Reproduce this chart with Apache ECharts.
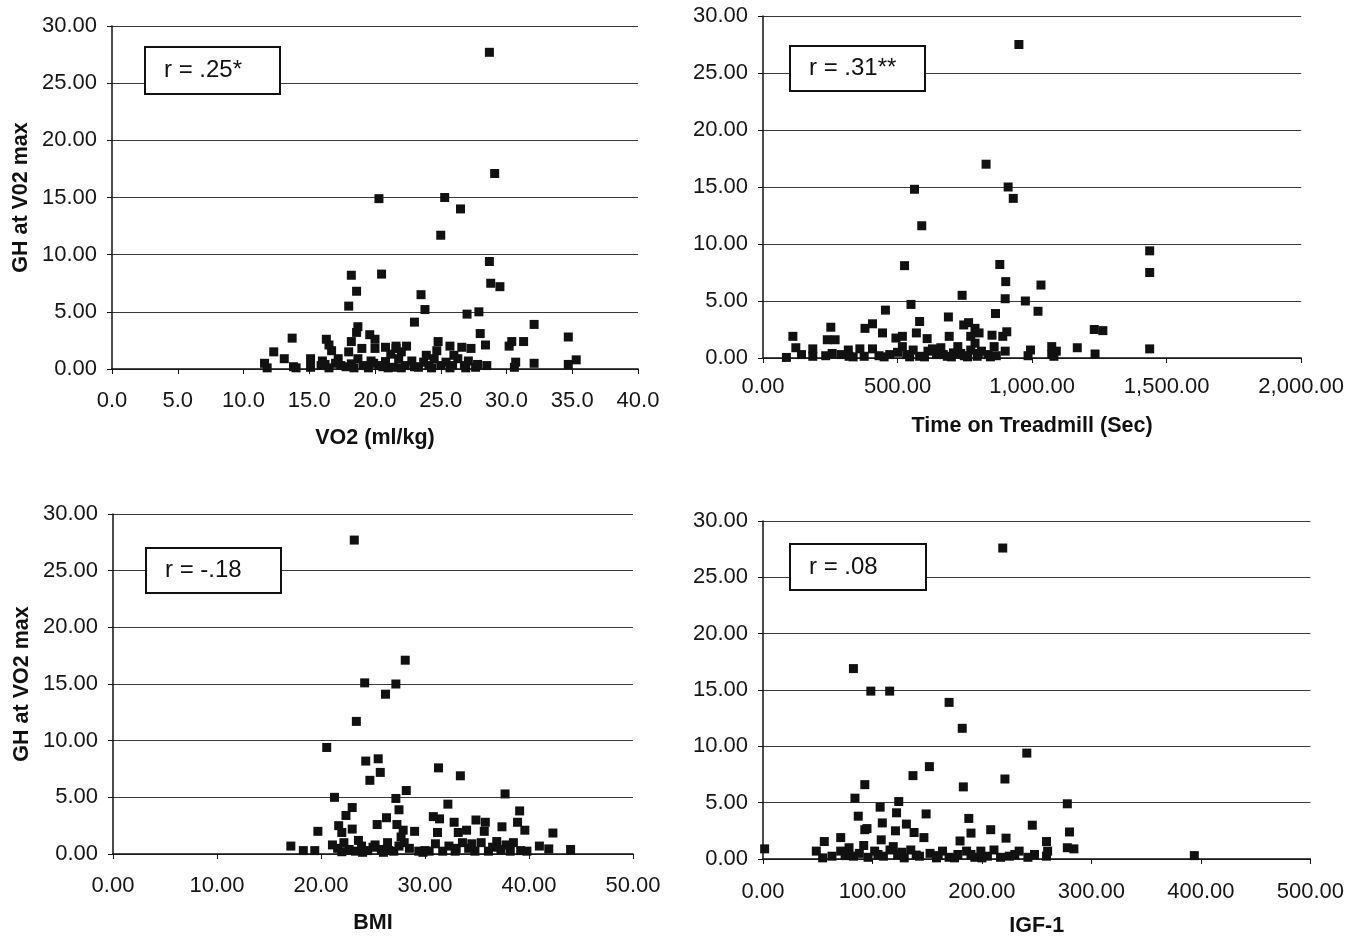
<!DOCTYPE html>
<html>
<head>
<meta charset="utf-8">
<script src="https://cdn.jsdelivr.net/npm/echarts@6/dist/echarts.min.js"></script>
<style>
html,body{margin:0;padding:0;background:#fff;}
#chart{width:1347px;height:938px;}
</style>
</head>
<body>
<div id="chart"></div>
<script>
// ---- Data (GH at VO2 max vs. predictors) ----
const yTicks = [0, 5, 10, 15, 20, 25, 30];
const panelTitles = ['VO2 (ml/kg)', 'Time on Treadmill (Sec)', 'BMI', 'IGF-1'];
const correlations = ['r = .25*', 'r = .31**', 'r = -.18', 'r = .08'];

const vo2Points = [
  [28.7,27.7],[29.1,17.1],[20.3,14.9],[25.3,15.0],[26.5,14.0],[25.0,11.7],
  [28.7,9.4],[18.2,8.2],[20.5,8.3],[18.6,6.8],[23.5,6.5],[28.8,7.5],[29.5,7.2],
  [18.0,5.5],[23.8,5.2],[27.0,4.8],[27.9,5.0],[23.0,4.1],[32.1,3.9],[28.0,3.1],
  [34.7,2.8],[13.7,2.7],[16.3,2.6],[18.7,3.7],[18.6,3.2],[19.6,3.0],[20.0,2.6],
  [12.3,1.5],[13.1,0.9],[31.3,2.4],[30.4,2.4],[30.2,2.0],[28.4,2.1],[27.3,1.8],
  [26.6,1.9],[25.7,2.0],[24.8,2.4],[24.7,1.6],[22.4,2.0],[21.6,1.8],[20.8,1.9],
  [20.0,1.8],[19.0,1.8],[18.2,2.4],[18.0,1.5],[16.7,1.6],[16.5,2.1],[21.6,2.0],[22.0,1.5],
  [11.6,0.5],[11.8,0.1],[14.0,0.1],[15.1,0.9],[15.1,0.15],[15.9,0.3],[16.0,0.7],
  [17.2,0.9],[17.4,0.3],[18.2,0.45],[18.7,0.9],[19.1,0.3],[19.7,0.7],[20.3,0.3],
  [20.8,0.65],[21.4,0.15],[21.8,0.9],[22.3,0.3],[22.8,0.7],[23.3,0.15],[23.7,0.6],
  [24.1,0.3],[24.5,0.9],[25.0,0.3],[25.4,0.6],[25.9,0.3],[26.3,0.9],[26.8,0.3],
  [27.1,0.7],[27.65,0.15],[28.5,0.3],[30.7,0.6],[30.6,0.15],[32.1,0.5],[34.7,0.4],
  [35.3,0.8],[16.5,0.1],[17.8,0.2],[18.4,0.1],[19.5,0.1],[21.0,0.1],[22.0,0.1],
  [23.0,0.2],[24.3,0.1],[25.7,0.1],[26.9,0.1],[27.8,0.4],[13.8,0.2],[16.2,0.4],
  [17.0,0.5],[19.9,0.5],[20.6,0.2],[23.9,1.2],[26.0,1.2],[21.2,1.3]
];

const treadmillPoints = [
  [951,27.5],[829,17.0],[563,14.8],[911,15.0],[930,14.0],[590,11.6],[1437,9.4],
  [1437,7.5],[526,8.1],[880,8.2],[902,6.7],[1033,6.4],[740,5.5],[550,4.7],[900,5.2],
  [975,5.0],[1022,4.1],[455,4.2],[864,3.9],[689,3.6],[582,3.2],[746,2.9],[764,3.1],
  [407,3.0],[379,2.6],[252,2.7],[444,2.2],[111,1.9],[239,1.6],[268,1.6],[494,1.75],
  [518,1.9],[570,2.2],[610,1.7],[692,1.9],[788,2.6],[803,2.2],[851,2.0],[891,1.9],
  [906,2.3],[1231,2.5],[1263,2.4],[1437,0.8],[1168,0.9],[994,0.7],[1073,1.0],
  [1073,0.3],[1234,0.35],[900,0.6],[1081,0.15],
  [87,0.05],[122,0.9],[143,0.3],[185,0.8],[185,0.15],[233,0.2],[257,0.4],[317,0.7],
  [320,0.15],[360,0.8],[376,0.15],[407,0.8],[431,0.2],[471,0.3],[518,1.0],[534,0.3],
  [558,0.7],[582,0.15],[613,0.6],[645,0.3],[661,0.9],[685,0.15],[708,0.45],[724,1.0],
  [748,0.2],[772,0.7],[796,0.15],[812,0.6],[836,0.3],[859,1.0],[867,0.2],[788,1.3],
  [772,1.9],[290,0.3],[335,0.1],[450,0.1],[500,0.5],[545,0.1],[600,0.1],[630,0.8],
  [670,0.3],[700,0.1],[735,0.4],[760,0.1],[800,0.4],[845,0.1],[1090,0.6],[985,0.2]
];

const bmiPoints = [
  [23.2,27.7],[28.1,17.1],[24.2,15.1],[27.2,15.0],[26.2,14.1],[23.4,11.7],[20.55,9.4],
  [24.3,8.2],[25.5,8.4],[25.7,7.2],[24.7,6.5],[31.3,7.6],[33.4,6.9],[21.3,5.0],
  [28.2,5.6],[27.2,4.9],[37.7,5.3],[23.0,4.1],[27.5,3.9],[32.2,4.4],[39.1,3.8],
  [22.4,3.4],[26.3,3.2],[30.8,3.3],[31.4,3.1],[34.9,3.0],[35.8,2.8],[32.8,2.8],
  [38.9,2.8],[21.7,2.5],[23.0,2.2],[25.4,2.6],[27.3,2.6],[19.7,2.0],[22.0,1.9],
  [27.9,2.1],[29.0,2.0],[31.2,1.9],[33.2,1.9],[34.0,2.1],[35.7,2.0],[37.4,2.4],
  [39.6,2.1],[42.3,1.85],[27.7,1.5],
  [17.1,0.7],[18.3,0.3],[19.4,0.3],[21.1,0.8],[21.6,0.5],[22.2,1.0],[22.7,0.4],
  [23.3,0.25],[23.9,0.7],[24.5,0.3],[25.2,0.8],[25.8,0.4],[26.4,1.0],[27.0,0.25],
  [27.5,0.7],[28.5,0.5],[29.4,0.25],[30.4,0.25],[31.7,0.25],[32.3,0.7],[32.9,0.25],
  [33.6,1.0],[34.2,0.5],[34.8,0.25],[35.4,1.0],[36.1,0.25],[36.9,1.1],[37.3,0.4],
  [38.2,0.25],[38.5,1.0],[39.2,0.3],[39.8,0.25],[41.0,0.7],[41.9,0.45],[44.0,0.4],
  [26.5,0.3],[22.0,0.2],[24.0,0.15],[25.0,0.6],[26.0,0.15],[28.0,1.0],[30.0,0.3],
  [31.0,0.9],[33.0,0.5],[34.5,0.9],[36.5,0.6],[37.8,0.8],[29.8,0.15],[23.6,1.2]
];

const igfPoints = [
  [219,27.6],[82.6,16.9],[98.5,14.9],[115.7,14.9],[170,13.9],[182,11.6],[241,9.4],
  [152,8.2],[137,7.4],[221,7.1],[93,6.6],[183,6.4],[84,5.4],[124,5.1],[278,4.9],
  [107,4.6],[122,4.1],[149,4.0],[87,3.8],[188,3.6],[109,3.2],[131,3.1],[246,3.0],
  [93,2.6],[95,2.7],[121,2.5],[138,2.35],[208,2.6],[280,2.4],[190,2.3],[147,1.9],
  [222,1.85],[180,1.6],[259,1.55],[56,1.55],[71,1.9],[108,1.7],[278,1.0],[284,0.9],
  [1.5,0.9],[394,0.3],
  [48.7,0.7],[54.5,0.1],[63,0.25],[71,0.7],[78.6,1.0],[82.6,0.25],[88,0.5],[96,0.15],
  [102,0.7],[110,0.25],[116,0.8],[123,0.4],[129,0.1],[135,0.8],[143,0.25],[152.6,0.5],
  [158.5,0.1],[164,0.7],[170,0.15],[178,0.4],[186,0.7],[193.5,0.15],[199,0.7],
  [205,0.25],[211,0.8],[217,0.15],[225,0.25],[234,0.7],[242,0.15],[248,0.4],
  [259,0.25],[260,0.7],[75,0.3],[92,1.2],[105,0.4],[119,1.1],[127,0.6],[140,0.35],
  [160,0.3],[175,0.1],[190,0.4],[200,0.1],[230,0.4]
];

// ---- Chart setup ----
const panels = [
  {data: vo2Points, xMax: 40, xInt: 5, fmt: v => v.toFixed(1),
   grid: {left: 112, top: 26, width: 526, height: 343}, yName: 'GH at V02 max', labelMargin: 21, nameGap: 58},
  {data: treadmillPoints, xMax: 2000, xInt: 500,
   fmt: v => { const s = v.toFixed(2); const [a, b] = s.split('.'); return a.replace(/\B(?=(\d{3})+(?!\d))/g, ',') + '.' + b; },
   grid: {left: 763, top: 16, width: 539, height: 342}, yName: '', labelMargin: 18, nameGap: 57},
  {data: bmiPoints, xMax: 50, xInt: 10, fmt: v => v.toFixed(2),
   grid: {left: 113, top: 514, width: 520, height: 340}, yName: 'GH at VO2 max', labelMargin: 21, nameGap: 58},
  {data: igfPoints, xMax: 500, xInt: 100, fmt: v => v.toFixed(2),
   grid: {left: 763, top: 521, width: 549, height: 340}, yName: '', labelMargin: 22, nameGap: 56}
];

const FONT = '"Liberation Sans", Arial, sans-serif';
const boxes = [
  {x: 145, y: 47, w: 135, h: 47},
  {x: 790, y: 46, w: 135, h: 45},
  {x: 146, y: 548, w: 135, h: 45},
  {x: 790, y: 544, w: 136, h: 46}
];

const option = {
  backgroundColor: '#ffffff',
  animation: false,
  grid: panels.map(p => Object.assign({containLabel: false}, p.grid)),
  xAxis: panels.map((p, i) => ({
    gridIndex: i, type: 'value', min: 0, max: p.xMax, interval: p.xInt,
    name: panelTitles[i], nameLocation: 'middle', nameGap: p.nameGap,
    nameTextStyle: {fontFamily: FONT, fontSize: 21.5, fontWeight: 'bold', color: '#111'},
    axisLine: {show: true, onZero: false, lineStyle: {color: '#111', width: 1.5}},
    axisTick: {show: true, length: 5, lineStyle: {color: '#111', width: 1}},
    splitLine: {show: false},
    axisLabel: {formatter: p.fmt, fontFamily: FONT, fontSize: 22, color: '#151515', margin: p.labelMargin}
  })),
  yAxis: panels.map((p, i) => ({
    gridIndex: i, type: 'value', min: yTicks[0], max: yTicks[yTicks.length - 1], interval: yTicks[1] - yTicks[0],
    name: p.yName, nameLocation: 'middle', nameGap: 80,
    nameTextStyle: {fontFamily: FONT, fontSize: 21.5, fontWeight: 'bold', color: '#111'},
    axisLine: {show: true, lineStyle: {color: '#111', width: 1.5}},
    axisTick: {show: true, length: 5, lineStyle: {color: '#111', width: 1}},
    splitLine: {show: true, lineStyle: {color: '#3a3a3a', width: 1.2}},
    axisLabel: {formatter: v => v.toFixed(2), fontFamily: FONT, fontSize: 22, color: '#151515', margin: 15}
  })),
  series: panels.map((p, i) => ({
    type: 'scatter', xAxisIndex: i, yAxisIndex: i, data: p.data,
    symbol: 'rect', symbolSize: 9, itemStyle: {color: '#111', opacity: 1}
  })),
  graphic: boxes.flatMap((b, i) => ([
    {type: 'rect', shape: {x: b.x, y: b.y, width: b.w, height: b.h},
     style: {fill: '#fff', stroke: '#111', lineWidth: 2}, z: 100},
    {type: 'text', x: b.x + 19, y: b.y + b.h / 2,
     style: {text: correlations[i], font: '24px "Liberation Sans", Arial, sans-serif', fill: '#111', textVerticalAlign: 'middle'}, z: 101}
  ]))
};

const chart = echarts.init(document.getElementById('chart'), null, {renderer: 'canvas'});
chart.setOption(option);
</script>
</body>
</html>
